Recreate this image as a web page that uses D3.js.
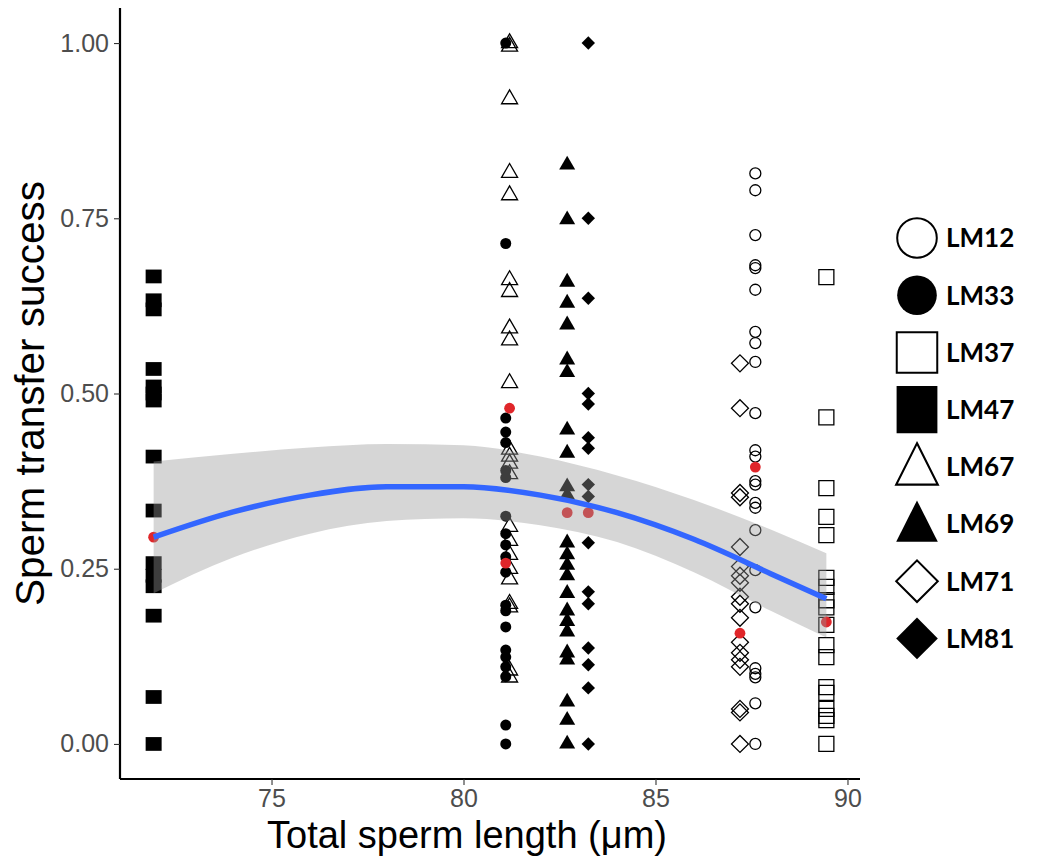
<!DOCTYPE html>
<html>
<head>
<meta charset="utf-8">
<script src="https://cdn.jsdelivr.net/npm/d3@7/dist/d3.min.js"></script>
<style>
  html, body { margin: 0; padding: 0; background: #ffffff; }
  svg { display: block; }
</style>
</head>
<body>
<svg id="chart" width="1037" height="863"></svg>
<script>
// ---------------- DATA ----------------
const lines = ["LM12", "LM33", "LM37", "LM47", "LM67", "LM69", "LM71", "LM81"];
const lineLength = { LM47: 71.93, LM33: 81.1, LM67: 81.2, LM69: 82.7, LM81: 83.25, LM71: 87.2, LM12: 87.6, LM37: 89.45 };

const LM47 = [0.667, 0.633, 0.62, 0.535, 0.51, 0.50, 0.49, 0.41, 0.333, 0.258, 0.24, 0.225, 0.183, 0.067, 0.0];
const LM33 = [1.0, 0.714, 0.465, 0.445, 0.43, 0.39, 0.38, 0.325, 0.30, 0.284, 0.267, 0.245, 0.198, 0.19, 0.167, 0.134, 0.124, 0.11, 0.096, 0.027, 0.0];
const LM67 = [1.0, 0.995, 0.92, 0.815, 0.783, 0.662, 0.645, 0.593, 0.576, 0.515, 0.42, 0.41, 0.40, 0.385, 0.31, 0.29, 0.27, 0.25, 0.235, 0.20, 0.195, 0.105, 0.095];
const LM69 = [0.826, 0.748, 0.659, 0.629, 0.598, 0.548, 0.53, 0.448, 0.415, 0.367, 0.355, 0.287, 0.27, 0.255, 0.24, 0.215, 0.19, 0.175, 0.16, 0.13, 0.12, 0.06, 0.034, 0.0];
const LM81 = [1.0, 0.75, 0.636, 0.50, 0.485, 0.437, 0.422, 0.37, 0.353, 0.287, 0.217, 0.20, 0.137, 0.113, 0.08, 0.0];
const LM71 = [0.543, 0.479, 0.358, 0.352, 0.281, 0.253, 0.24, 0.23, 0.21, 0.20, 0.18, 0.145, 0.13, 0.12, 0.11, 0.05, 0.045, 0.0];
const LM12 = [0.814, 0.79, 0.726, 0.683, 0.679, 0.648, 0.588, 0.572, 0.545, 0.472, 0.419, 0.41, 0.375, 0.37, 0.344, 0.337, 0.305, 0.248, 0.195, 0.108, 0.10, 0.095, 0.058, 0.0];
const LM37 = [0.666, 0.466, 0.365, 0.324, 0.298, 0.237, 0.224, 0.205, 0.195, 0.17, 0.141, 0.124, 0.081, 0.073, 0.05, 0.04, 0.034, 0.0];

// per-line red summary points
const meanLines = ["LM47", "LM33", "LM67", "LM69", "LM81", "LM71", "LM12", "LM37"];
const meanValues = [0.295, 0.258, 0.479, 0.33, 0.33, 0.158, 0.395, 0.174];

// smoother (quadratic fit with confidence band)
const fitX     = [71.93, 74, 76, 78, 80, 82, 84, 86, 88, 89.45];
const fitY     = [0.295, 0.331, 0.355, 0.367, 0.367, 0.355, 0.330, 0.292, 0.243, 0.207];
const fitLower = [0.215, 0.266, 0.300, 0.318, 0.322, 0.312, 0.288, 0.245, 0.190, 0.152];
const fitUpper = [0.403, 0.414, 0.423, 0.428, 0.426, 0.410, 0.383, 0.348, 0.306, 0.272];

const xTicks = [75, 80, 85, 90];
const yTicks = [0, 0.25, 0.5, 0.75, 1.0];

// ---------------- LAYOUT ----------------
const svg = d3.select("#chart");
const panel = { left: 120, right: 860, top: 8, bottom: 779 };

const xMin = d3.min(Object.values(lineLength)), xMax = d3.max(Object.values(lineLength));
const xPad = (xMax - xMin) * 0.05;
const x = d3.scaleLinear().domain([xMin - xPad, xMax + xPad]).range([panel.left, panel.right]);
const y = d3.scaleLinear().domain([-0.05, 1.05]).range([panel.bottom, panel.top]);

const seriesValues = { LM12, LM33, LM37, LM47, LM67, LM69, LM71, LM81 };

// shape definitions (ggplot shapes 1,16,0,15,2,17,5,18)
const shapeDef = {
  LM12: { type: d3.symbolCircle,   filled: false, d: 11,  rot: 0,  sy: 1,    leg: 3.6 },
  LM33: { type: d3.symbolCircle,   filled: true,  d: 11,  rot: 0,  sy: 1,    leg: 3.6 },
  LM37: { type: d3.symbolSquare,   filled: false, d: 15,  rot: 0,  sy: 1,    leg: 2.7 },
  LM47: { type: d3.symbolSquare,   filled: true,  d: 16,  rot: 0,  sy: 0.86, leg: 2.55 },
  LM67: { type: d3.symbolTriangle, filled: false, d: 16,  rot: 0,  sy: 1,    leg: 2.6 },
  LM69: { type: d3.symbolTriangle, filled: true,  d: 16,  rot: 0,  sy: 1,    leg: 2.6 },
  LM71: { type: d3.symbolSquare,   filled: false, d: 12,  rot: 45, sy: 1,    leg: 2.45 },
  LM81: { type: d3.symbolSquare,   filled: true,  d: 9.5, rot: 45, sy: 1,    leg: 3.1 }
};
function areaFor(def, d) {
  if (def.type === d3.symbolCircle) return Math.PI * d * d / 4;
  if (def.type === d3.symbolTriangle) return Math.sqrt(3) / 4 * d * d;
  return d * d;
}
function symPath(name, scale) {
  const def = shapeDef[name];
  const d = def.d * scale;
  return d3.symbol().type(def.type).size(areaFor(def, d))();
}

// ---------------- POINTS ----------------
const gPts = svg.append("g");
lines.forEach(name => {
  const def = shapeDef[name];
  gPts.selectAll(null)
    .data(seriesValues[name])
    .enter().append("path")
    .attr("d", symPath(name, 1))
    .attr("transform", v => `translate(${x(lineLength[name])},${y(v)}) rotate(${def.rot}) scale(1,${def.sy})`)
    .attr("fill", def.filled ? "#000" : "none")
    .attr("stroke", "#000")
    .attr("stroke-width", def.filled ? 0 : 1.3);
});

// red summary points
svg.append("g").selectAll("circle")
  .data(meanLines.map((n, i) => ({ n, v: meanValues[i] })))
  .enter().append("circle")
  .attr("cx", d => x(lineLength[d.n]))
  .attr("cy", d => y(d.v))
  .attr("r", 5.4)
  .attr("fill", "#e0262a");

// ---------------- SMOOTH ----------------
const band = fitX.map((xv, i) => ({ x: xv, lo: fitLower[i], hi: fitUpper[i], f: fitY[i] }));
svg.append("path")
  .datum(band)
  .attr("d", d3.area().x(d => x(d.x)).y0(d => y(d.lo)).y1(d => y(d.hi)).curve(d3.curveMonotoneX))
  .attr("fill", "#999999")
  .attr("fill-opacity", 0.4);
svg.append("path")
  .datum(band)
  .attr("d", d3.line().x(d => x(d.x)).y(d => y(d.f)).curve(d3.curveMonotoneX))
  .attr("fill", "none")
  .attr("stroke", "#3366FF")
  .attr("stroke-width", 5.5);

// ---------------- AXES ----------------
const xAxis = svg.append("g")
  .attr("transform", `translate(0,${panel.bottom})`)
  .call(d3.axisBottom(x).tickValues(xTicks).tickFormat(d3.format("d")).tickSize(6).tickPadding(4));
const yAxis = svg.append("g")
  .attr("transform", `translate(${panel.left},0)`)
  .call(d3.axisLeft(y).tickValues(yTicks).tickFormat(d3.format(".2f")).tickSize(6).tickPadding(5));

[xAxis, yAxis].forEach(g => {
  g.select(".domain").attr("stroke", "#000").attr("stroke-width", 2.2);
  g.selectAll(".tick line").attr("stroke", "#333").attr("stroke-width", 1.1);
  g.selectAll(".tick text")
    .attr("fill", "#4d4d4d")
    .style("font-family", "'Liberation Sans', Arial, sans-serif")
    .style("font-size", "25px");
});
xAxis.select(".domain").attr("d", `M${panel.left},0H${panel.right}`);
yAxis.select(".domain").attr("d", `M0,${panel.bottom}V${panel.top}`);

// axis titles
svg.append("text")
  .attr("x", 467)
  .attr("y", 848)
  .attr("text-anchor", "middle")
  .style("font-family", "'Liberation Sans', Arial, sans-serif")
  .style("font-size", "38px")
  .attr("fill", "#000")
  .text("Total sperm length (μm)");

svg.append("text")
  .attr("transform", `translate(44,${(panel.top + panel.bottom) / 2}) rotate(-90)`)
  .attr("text-anchor", "middle")
  .attr("textLength", 425)
  .attr("lengthAdjust", "spacingAndGlyphs")
  .style("font-family", "'Liberation Sans', Arial, sans-serif")
  .style("font-size", "41px")
  .attr("fill", "#000")
  .text("Sperm transfer success");

// ---------------- LEGEND ----------------
const legend = svg.append("g");
const legY0 = 238, legStep = 57.2;
lines.forEach((name, i) => {
  const def = shapeDef[name];
  const cy = legY0 + i * legStep;
  const isTri = def.type === d3.symbolTriangle;
  legend.append("path")
    .attr("d", symPath(name, def.leg))
    .attr("transform", `translate(917,${cy + (isTri ? 4 : 0)}) rotate(${def.rot}) scale(1,${isTri ? 1.15 : (name === "LM47" ? 1.16 : 1)})`)
    .attr("fill", def.filled ? "#000" : "#fff")
    .attr("stroke", "#000")
    .attr("stroke-width", def.filled ? 0 : 2);
  legend.append("text")
    .attr("x", 946)
    .attr("y", cy)
    .attr("dy", "0.36em")
    .style("font-family", "Lato, 'Open Sans', sans-serif")
    .style("font-weight", "bold")
    .style("font-size", "26px")
    .attr("fill", "#000")
    .text(name);
});
</script>
</body>
</html>
